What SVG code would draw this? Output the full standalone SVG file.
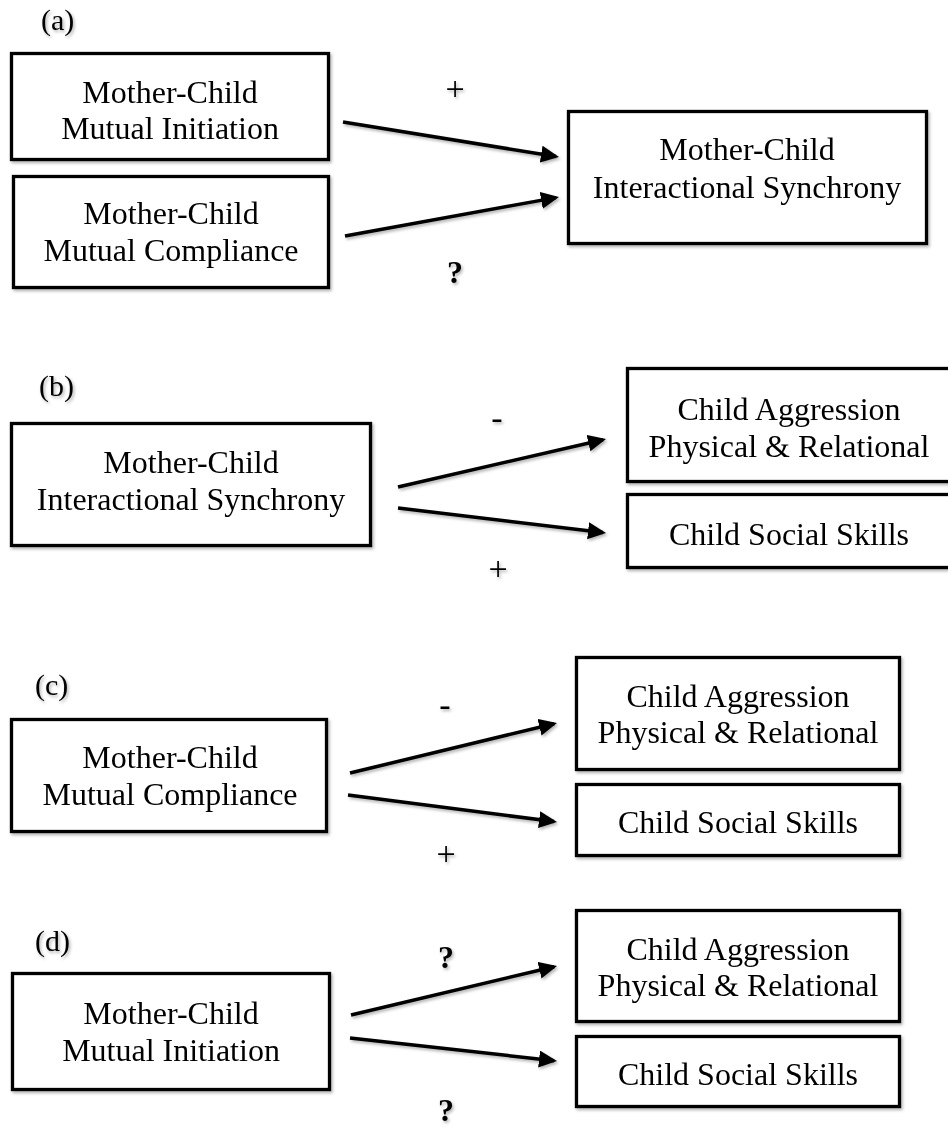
<svg xmlns="http://www.w3.org/2000/svg" width="948" height="1128" viewBox="0 0 948 1128">
<style>
.box{fill:#fff;stroke:#000;stroke-width:3.3}
.t{font-family:"Liberation Serif","Times New Roman",serif;font-size:32px;fill:#000;text-anchor:middle}
.lab{font-family:"Liberation Serif","Times New Roman",serif;font-size:30px;fill:#000}
.sign{font-family:"Liberation Serif","Times New Roman",serif;font-size:34px;fill:#000;text-anchor:middle}
.q{font-weight:bold;font-size:32px}
.arr{stroke:#000;stroke-width:3.5;fill:none;marker-end:url(#ah)}
</style>
<defs>
<filter id="sh" x="-10%" y="-10%" width="120%" height="130%">
<feDropShadow dx="1.5" dy="2" stdDeviation="1.5" flood-color="#000" flood-opacity="0.3"/>
</filter>
<marker id="ah" markerUnits="userSpaceOnUse" markerWidth="20" markerHeight="18" refX="15" refY="8.5" orient="auto">
<path d="M0,0 L18,8.5 L0,17 z" fill="#000"/>
</marker>
</defs>
<rect width="948" height="1128" fill="#fff"/>
<g filter="url(#sh)">
<g id="panel-labels">
<text class="lab" x="41" y="30">(a)</text>
<text class="lab" x="39" y="396">(b)</text>
<text class="lab" x="35" y="695">(c)</text>
<text class="lab" x="35" y="951">(d)</text>
</g>
<g id="a-initiation">
<rect class="box" x="11.5" y="53.5" width="317" height="106"/>
<text class="t" x="170" y="103">Mother-Child</text>
<text class="t" x="170" y="139">Mutual Initiation</text>
</g>
<g id="a-compliance">
<rect class="box" x="13.5" y="176.5" width="315" height="111"/>
<text class="t" x="171" y="224">Mother-Child</text>
<text class="t" x="171" y="261">Mutual Compliance</text>
</g>
<g id="a-synchrony">
<rect class="box" x="568.5" y="111.5" width="358" height="132"/>
<text class="t" x="747" y="160">Mother-Child</text>
<text class="t" x="747" y="198">Interactional Synchrony</text>
</g>
<g id="b-synchrony">
<rect class="box" x="11.5" y="423.5" width="359" height="122"/>
<text class="t" x="191" y="473">Mother-Child</text>
<text class="t" x="191" y="510">Interactional Synchrony</text>
</g>
<g id="b-aggression">
<rect class="box" x="627.5" y="368.5" width="330" height="113"/>
<text class="t" x="789" y="420">Child Aggression</text>
<text class="t" x="789" y="457">Physical &amp; Relational</text>
</g>
<g id="b-social">
<rect class="box" x="627.5" y="494.5" width="330" height="73"/>
<text class="t" x="789" y="545">Child Social Skills</text>
</g>
<g id="c-compliance">
<rect class="box" x="11.5" y="719.5" width="315" height="112"/>
<text class="t" x="170" y="768">Mother-Child</text>
<text class="t" x="170" y="805">Mutual Compliance</text>
</g>
<g id="c-aggression">
<rect class="box" x="576.5" y="657.5" width="323" height="112"/>
<text class="t" x="738" y="707">Child Aggression</text>
<text class="t" x="738" y="743">Physical &amp; Relational</text>
</g>
<g id="c-social">
<rect class="box" x="576.5" y="784.5" width="323" height="71"/>
<text class="t" x="738" y="833">Child Social Skills</text>
</g>
<g id="d-initiation">
<rect class="box" x="12.5" y="973.5" width="317" height="116"/>
<text class="t" x="171" y="1024">Mother-Child</text>
<text class="t" x="171" y="1061">Mutual Initiation</text>
</g>
<g id="d-aggression">
<rect class="box" x="576.5" y="910.5" width="323" height="111"/>
<text class="t" x="738" y="960">Child Aggression</text>
<text class="t" x="738" y="996">Physical &amp; Relational</text>
</g>
<g id="d-social">
<rect class="box" x="576.5" y="1036.5" width="323" height="70"/>
<text class="t" x="738" y="1085">Child Social Skills</text>
</g>
<g id="connectors">
<line class="arr" x1="343" y1="122" x2="556" y2="156.5"/>
<line class="arr" x1="345" y1="236" x2="556" y2="197.6"/>
<line class="arr" x1="398" y1="487" x2="603.1" y2="439.7"/>
<line class="arr" x1="398" y1="508" x2="603" y2="532.6"/>
<line class="arr" x1="350" y1="773" x2="554.1" y2="723.7"/>
<line class="arr" x1="348" y1="795" x2="554" y2="821.6"/>
<line class="arr" x1="351" y1="1015" x2="554.1" y2="966.7"/>
<line class="arr" x1="350" y1="1038" x2="554" y2="1060.7"/>
</g>
<g id="connector-labels">
<text class="sign" x="455" y="100">+</text>
<text class="sign q" x="455" y="283">?</text>
<text class="sign" x="497" y="429">-</text>
<text class="sign" x="498" y="580">+</text>
<text class="sign" x="445" y="716">-</text>
<text class="sign" x="446" y="865">+</text>
<text class="sign q" x="446" y="968">?</text>
<text class="sign q" x="446" y="1121">?</text>
</g>
</g>
</svg>
